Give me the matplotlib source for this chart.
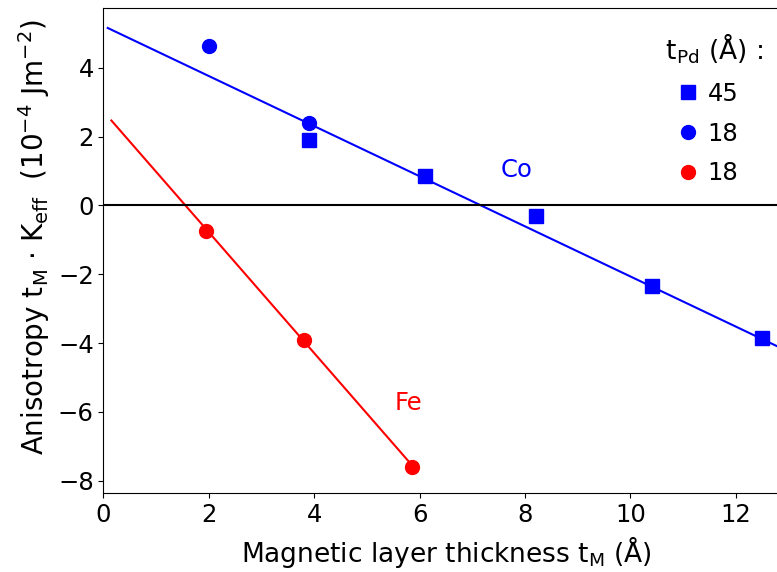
import matplotlib
matplotlib.use("Agg")
from matplotlib import pyplot as plt
import numpy as np

# Co, t_Pd = 45 A (squares)
co45_t = [3.9, 6.1, 8.2, 10.4, 12.5]
co45_k = [1.9, 0.85, -0.3, -2.35, -3.85]

# Co, t_Pd = 18 A (circles)
co18_t = [2.0, 3.9]
co18_k = [4.65, 2.4]

# Fe, t_Pd = 18 A (circles)
fe18_t = [1.95, 3.8, 5.85]
fe18_k = [-0.75, -3.9, -7.6]

# fitted lines (end points)
co_fit_t = [0.08, 13.0]
co_fit_k = [5.16, -4.25]
fe_fit_t = [0.15, 5.95]
fe_fit_k = [2.47, -7.72]

plt.rcParams['font.size'] = 17.5

fig = plt.figure(figsize=(7.77, 5.72), dpi=100)
ax = fig.add_axes([0.1332, 0.138, 0.8817, 0.848])

ax.plot(co_fit_t, co_fit_k, color="blue", lw=1.5)
ax.plot(fe_fit_t, fe_fit_k, color="red", lw=1.5)
ax.axhline(0, color="black", lw=1.5)

ax.plot(co45_t, co45_k, "s", color="blue", ms=10, label="45")
ax.plot(co18_t, co18_k, "o", color="blue", ms=10, label="18")
ax.plot(fe18_t, fe18_k, "o", color="red", ms=10, label="18")

ax.text(7.83, 1.03, "Co", color="blue", ha="center", va="center")
ax.text(5.78, -5.74, "Fe", color="red", ha="center", va="center")

ax.set_xlim(0, 13.0)
ax.set_ylim(-8.36, 5.74)
ax.set_xticks([0, 2, 4, 6, 8, 10, 12])
ax.set_yticks([-8, -6, -4, -2, 0, 2, 4])
ax.set_xlabel(r"Magnetic layer thickness t$_{\rm M}$ (Å)", fontsize=19, labelpad=5)
ax.set_ylabel(r"Anisotropy t$_{\rm M}$ $\cdot$ K$_{\rm eff}$  (10$^{-4}$ Jm$^{-2}$)", fontsize=20)
ax.yaxis.label.set_y(0.527)

leg = ax.legend(title=r"  t$_{\rm Pd}$ (Å) :", frameon=False, loc="upper right",
                bbox_to_anchor=(1.0104, 0.983), bbox_transform=fig.transFigure,
                handletextpad=0.2, handlelength=1.2, labelspacing=0.65,
                title_fontsize=19)

fig.savefig("out.png", dpi=100)
